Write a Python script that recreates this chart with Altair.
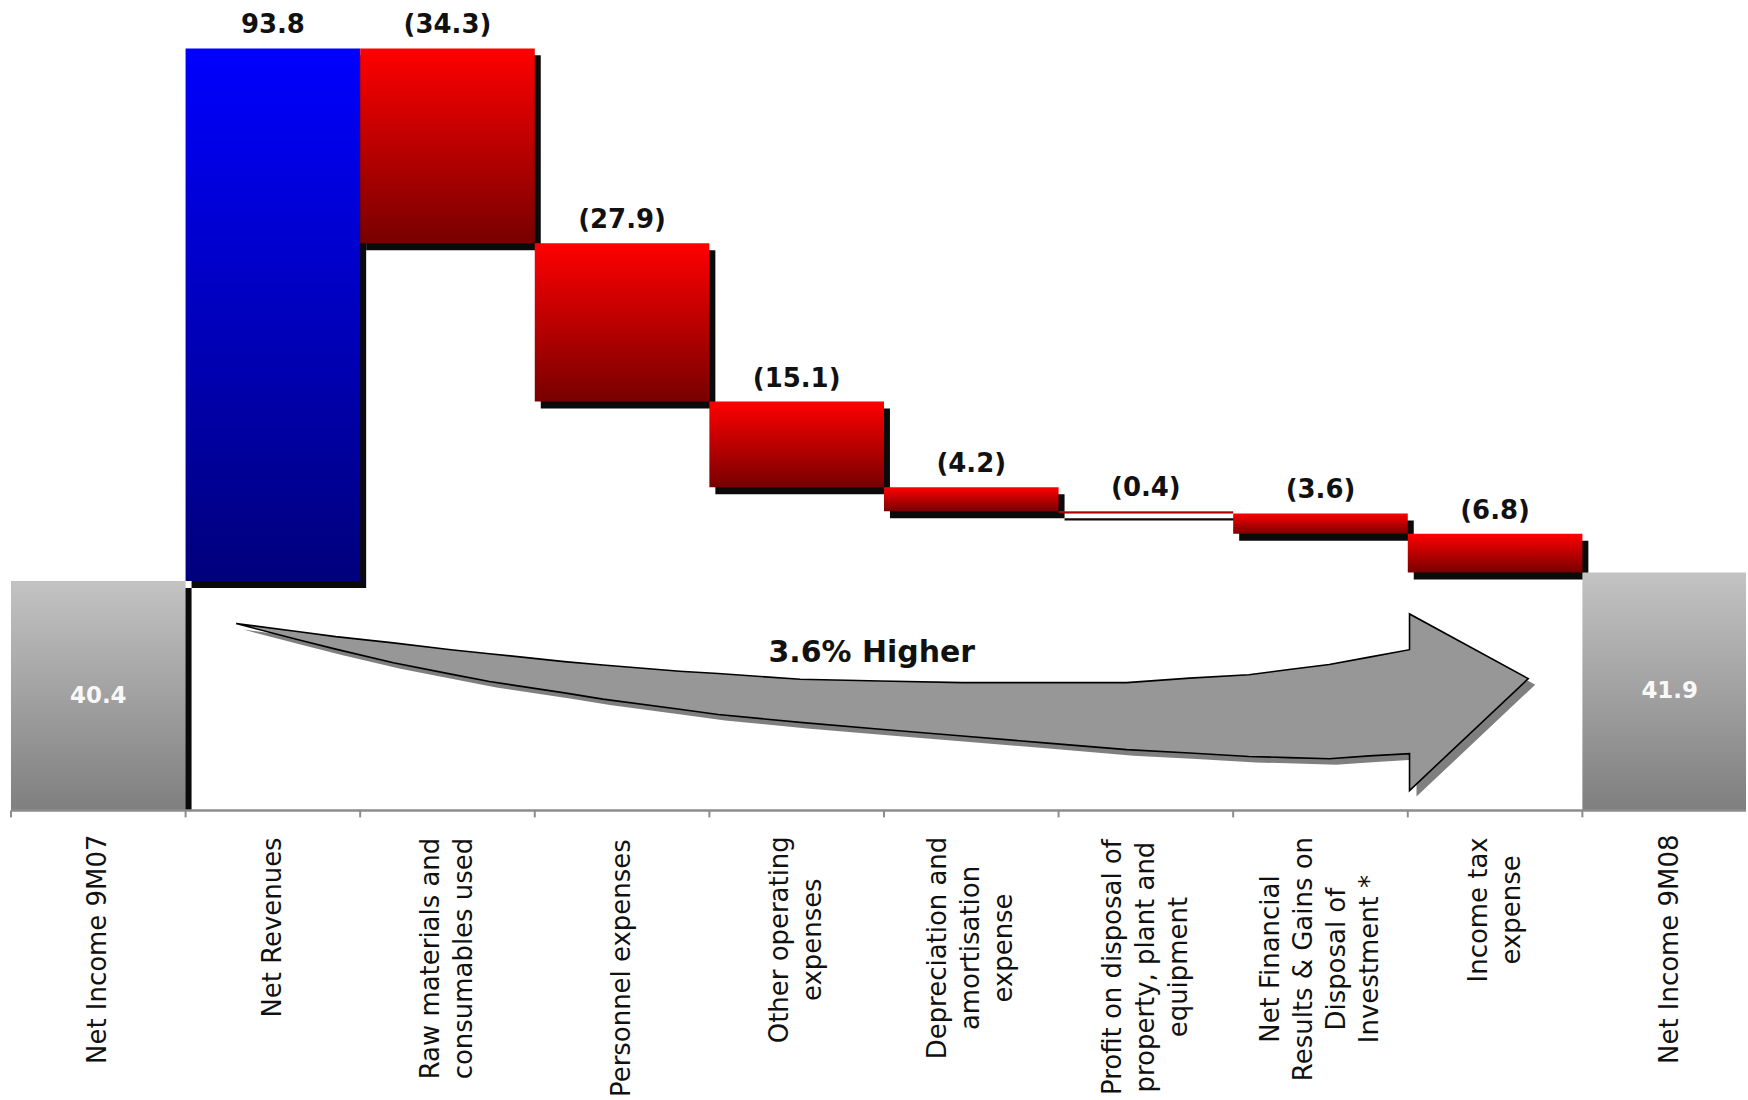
import altair as alt
import pandas as pd

# ---------------- data ----------------
category_lines = [
    ["Net Income 9M07"],
    ["Net Revenues"],
    ["Raw materials and", "consumables used"],
    ["Personnel expenses"],
    ["Other operating", "expenses"],
    ["Depreciation and", "amortisation", "expense"],
    ["Profit on disposal of", "property, plant and", "equipment"],
    ["Net Financial", "Results & Gains on", "Disposal of", "Investment *"],
    ["Income tax", "expense"],
    ["Net Income 9M08"],
]
values = [40.4, 93.8, -34.3, -27.9, -15.1, -4.2, -0.4, -3.6, -6.8, 41.9]
kinds = ["total", "increase", "decrease", "decrease", "decrease",
         "decrease", "decrease", "decrease", "decrease", "total"]

# curved arrow outline (x in category units, y in value units)
arrow_x = [1.29, 1.64, 1.86, 2.19, 2.52, 2.74, 3.17, 3.39, 3.83, 4.05, 4.52,
           4.98, 5.45, 5.92, 6.39, 6.75, 7.09, 7.32, 7.55, 7.78, 8.01, 8.01, 8.69]
arrow_top = [32.9, 31.5, 30.6, 29.5, 28.3, 27.6, 26.2, 25.6, 24.5, 24.1, 23.1,
             22.8, 22.5, 22.5, 22.5, 23.3, 23.9, 24.8, 25.7, 27.0, 28.3, 34.6, 23.2]
arrow_bottom = [32.9, 30.1, 28.4, 26.0, 24.0, 22.7, 20.7, 19.6, 17.8, 16.9, 15.5,
                14.3, 13.1, 11.9, 10.7, 10.1, 9.5, 9.3, 9.1, 9.6, 10.0, 3.5, 23.2]

annotation_text = ["3.6% Higher"]
annotation_x = [4.93]
annotation_y = [27.8]

# ---------------- layout constants ----------------
PLOT_W = 1739
PLOT_H = 811
STEP = 175.0
YMAX = 142.5
PX = PLOT_H / YMAX
XMAX = PLOT_W / STEP
LABEL_GAP = 27
LABEL_SIZE = 26
LINE_H = 33
TICK = 7
BAR_SH_DX, BAR_SH_DY = 6, 7
ARR_SH_DX, ARR_SH_DY = 7, 6

# approximate glyph widths (em) of DejaVu Sans, for centring the rotated labels
_W = {" ": .318, "a": .613, "b": .635, "c": .550, "d": .635, "e": .615, "f": .352,
      "g": .635, "h": .634, "i": .278, "j": .278, "k": .579, "l": .278, "m": .974,
      "n": .634, "o": .612, "p": .635, "q": .635, "r": .411, "s": .521, "t": .392,
      "u": .634, "v": .592, "w": .818, "x": .592, "y": .592, "z": .525, ",": .318,
      ".": .318, "*": .5, "&": .78, "I": .295}


def text_px(s):
    return sum(_W.get(c, .70 if c.isupper() else .636) for c in s) * LABEL_SIZE


rows = []
running = 0.0
for i, (lines, v, k) in enumerate(zip(category_lines, values, kinds)):
    if k == "total":
        start, end = 0.0, v
        running = v
        label = f"{v:.1f}"
    else:
        start = running
        running = round(running + v, 2)
        end = running
        label = f"{v:.1f}" if v >= 0 else f"({-v:.1f})"
    lo, hi = min(start, end), max(start, end)
    longest = max(text_px(s) for s in lines)
    rows.append(dict(
        idx=i, x0=float(i), x1=float(min(i + 1, XMAX)), xc=i + 0.5,
        start=float(start), end=float(end), top=float(hi), mid=(start + end) / 2,
        sx0=i + BAR_SH_DX / STEP, sx1=min(i + 1 + BAR_SH_DX / STEP, XMAX),
        sy0=max(lo - BAR_SH_DY / PX, 0.0), sy1=hi - BAR_SH_DY / PX,
        ty0=0.0, ty1=-TICK / PX,
        kind=k, label=label, catlabel="\n".join(lines),
        label_x=i + 0.5 - (len(lines) - 1) * LINE_H / 2 / STEP,
        label_y=-(LABEL_GAP + 0.5 * longest) / PX,
    ))
df = pd.DataFrame(rows)
base_df = pd.DataFrame({"x0": [0.0], "x1": [XMAX], "y": [0.0]})

arrow_df = pd.DataFrame({"u": arrow_x, "top": arrow_top, "bottom": arrow_bottom})
arrow_shadow_df = pd.DataFrame({
    "u": [a + ARR_SH_DX / STEP for a in arrow_x],
    "top": [t - ARR_SH_DY / PX for t in arrow_top],
    "bottom": [b - ARR_SH_DY / PX for b in arrow_bottom],
})
ann_df = pd.DataFrame({"text": annotation_text, "u": annotation_x, "v": annotation_y})

x_scale = alt.Scale(domain=[0, XMAX], nice=False, zero=False)
y_scale = alt.Scale(domain=[0, YMAX], nice=False, zero=False)


def X(field):
    return alt.X(field, type="quantitative", scale=x_scale, axis=None)


def Y(field):
    return alt.Y(field, type="quantitative", scale=y_scale, axis=None)


def grad(top, bottom):
    return {"gradient": "linear", "x1": 0, "x2": 0, "y1": 0, "y2": 1,
            "stops": [{"offset": 0, "color": top}, {"offset": 1, "color": bottom}]}


base = alt.Chart(df)
bar_enc = dict(x=X("x0"), x2="x1", y=Y("start"), y2="end")

shadow = base.mark_rect(color="#0a0a0a").encode(
    x=X("sx0"), x2="sx1", y=Y("sy0"), y2="sy1")

gray_bars = base.transform_filter(alt.datum.kind == "total").mark_rect(
    fill=grad("#c3c3c3", "#7f7f7f")).encode(**bar_enc)
blue_bars = base.transform_filter(alt.datum.kind == "increase").mark_rect(
    fill=grad("#0000ff", "#00007c")).encode(**bar_enc)
red_bars = base.transform_filter(alt.datum.kind == "decrease").mark_rect(
    fill=grad("#ff0000", "#780000")).encode(**bar_enc)

baseline = alt.Chart(base_df).mark_rule(color="#8c8c8c", strokeWidth=2.5).encode(
    x=X("x0"), x2="x1", y=Y("y"))
ticks = base.mark_rule(color="#8c8c8c", strokeWidth=2).encode(
    x=X("x0"), y=Y("ty0"), y2="ty1")

delta_labels = base.transform_filter(alt.datum.kind != "total").mark_text(
    font="DejaVu Sans", fontWeight="bold", fontSize=26, dy=-15,
    baseline="alphabetic", align="center", color="#111111"
).encode(x=X("xc"), y=Y("top"), text="label:N")

total_labels = base.transform_filter(alt.datum.kind == "total").mark_text(
    font="DejaVu Sans", fontWeight="bold", fontSize=23,
    baseline="middle", align="center", color="#f8f8f8"
).encode(x=X("xc"), y=Y("mid"), text="label:N")

cat_labels = base.mark_text(
    font="DejaVu Sans", fontSize=LABEL_SIZE, lineHeight=LINE_H, angle=270,
    lineBreak="\n", align="center", baseline="middle", color="#111111"
).encode(x=X("label_x"), y=Y("label_y"), text="catlabel:N")

arrow_shadow = alt.Chart(arrow_shadow_df).mark_area(
    color="#7f7f7f", interpolate="linear"
).encode(x=X("u"), y=Y("top"), y2="bottom")
arrow = alt.Chart(arrow_df).mark_area(
    fill="#979797", stroke="#000000", strokeWidth=1.6, interpolate="linear"
).encode(x=X("u"), y=Y("top"), y2="bottom")

ann = alt.Chart(ann_df).mark_text(
    font="DejaVu Sans", fontWeight="bold", fontSize=30,
    align="center", baseline="middle", color="#111111"
).encode(x=X("u"), y=Y("v"), text="text:N")

chart = alt.layer(
    shadow, arrow_shadow, arrow, gray_bars, blue_bars, red_bars,
    baseline, ticks, delta_labels, total_labels, ann, cat_labels
).properties(
    width=PLOT_W, height=PLOT_H,
    padding={"left": 9, "top": 0, "right": 0, "bottom": 0},
    background="white",
).configure_view(stroke=None)

chart.save("out.html", embed_options={"renderer": "svg", "actions": False})
